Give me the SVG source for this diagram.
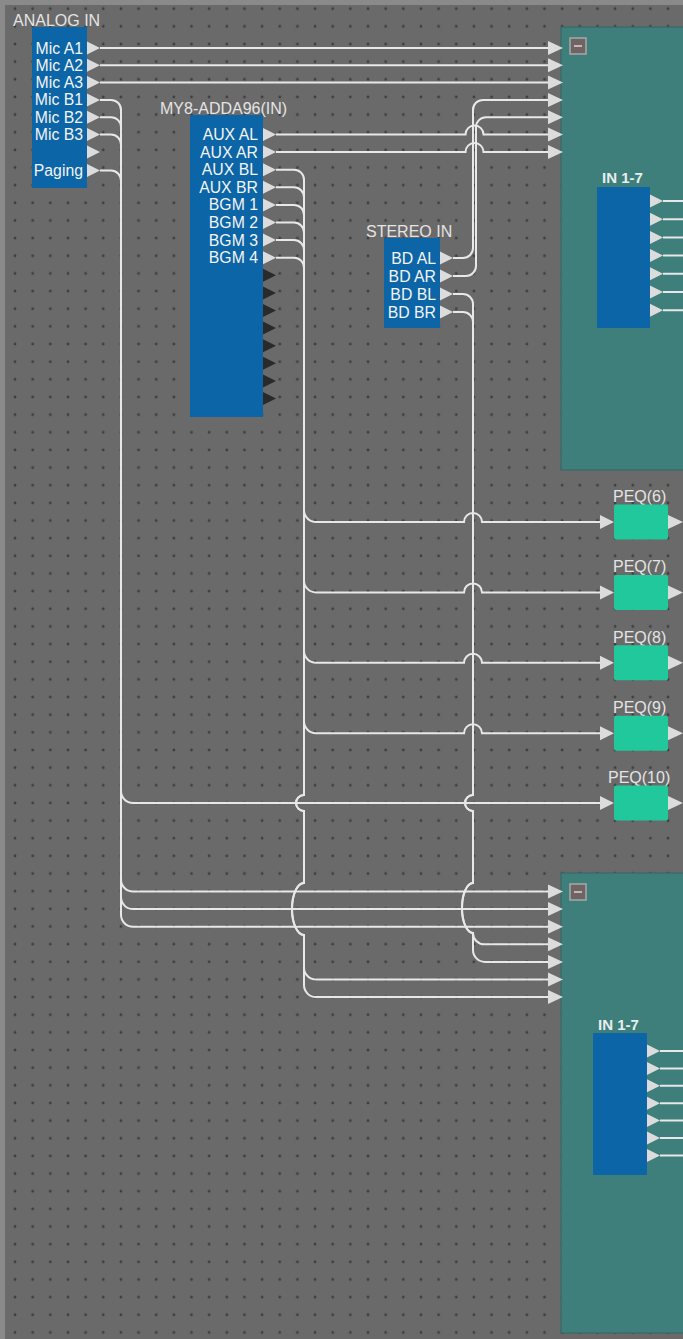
<svg xmlns="http://www.w3.org/2000/svg" width="683" height="1339" viewBox="0 0 683 1339">
<style>
.wire{fill:none;stroke:#e8e8e8;stroke-width:2}
.port{fill:#dcdcdc}
.dport{fill:#2a2a2a}
.blk{fill:#0b65a7}
.lbl{font-family:"Liberation Sans",Arial,sans-serif;font-size:15.8px;fill:#f4f4f4;text-anchor:end}
.ttl{font-family:"Liberation Sans",Arial,sans-serif;font-size:16px;fill:#e4e4e4}
.bold{font-family:"Liberation Sans",Arial,sans-serif;font-size:15px;font-weight:bold;fill:#e8eeee}
.peq{fill:#20c89b}
.teal{fill:#3e7f7b;stroke:#306663;stroke-width:1}
.mini{fill:#6e6464;stroke:#a8a8a8;stroke-width:1.5}
</style>
<defs>
<pattern id="grid" patternUnits="userSpaceOnUse" x="6.175" y="-0.125" width="17.65" height="17.65">
<circle cx="8.825" cy="8.825" r="1.4" fill="#3e3e3e"/>
</pattern>
<path id="tri" d="M0 -6.5L13 0L0 6.5Z"/>
<path id="tin" d="M0 -7L15 0L0 7Z"/>
</defs>
<rect x="0" y="0" width="683" height="1339" fill="#8a8a8a"/>
<rect x="5" y="5" width="678" height="1334" fill="#6a6a6a"/>
<rect x="5" y="5" width="678" height="1334" fill="url(#grid)"/>

<g id="upper-block">
<rect class="teal" x="561" y="27" width="130" height="443"/>
<rect class="mini" x="570" y="38" width="16" height="16"/>
<line x1="574" y1="46" x2="582" y2="46" stroke="#c8b4b4" stroke-width="2"/>
<text class="bold" x="602" y="183">IN 1-7</text>
<rect class="blk" x="597" y="187" width="53" height="141"/>
<g class="port">
<use href="#tri" x="650" y="201"/><use href="#tri" x="650" y="219.2"/><use href="#tri" x="650" y="237.4"/><use href="#tri" x="650" y="255.6"/><use href="#tri" x="650" y="273.8"/><use href="#tri" x="650" y="292"/><use href="#tri" x="650" y="310.2"/>
</g>
<path class="wire" d="M663 201H683M663 219.2H683M663 237.4H683M663 255.6H683M663 273.8H683M663 292H683M663 310.2H683"/>
<g class="port">
<use href="#tin" x="548" y="48"/><use href="#tin" x="548" y="65.3"/><use href="#tin" x="548" y="82.6"/><use href="#tin" x="548" y="99.9"/><use href="#tin" x="548" y="117.2"/><use href="#tin" x="548" y="134.5"/><use href="#tin" x="548" y="152"/>
</g>
</g>

<g id="lower-block">
<rect class="teal" x="561" y="873" width="130" height="460"/>
<rect class="mini" x="570" y="884" width="16" height="16"/>
<line x1="574" y1="892" x2="582" y2="892" stroke="#c8b4b4" stroke-width="2"/>
<text class="bold" x="598" y="1030">IN 1-7</text>
<rect class="blk" x="593" y="1033" width="54" height="142"/>
<g class="port">
<use href="#tri" x="647" y="1051"/><use href="#tri" x="647" y="1068.4"/><use href="#tri" x="647" y="1085.8"/><use href="#tri" x="647" y="1103.2"/><use href="#tri" x="647" y="1120.6"/><use href="#tri" x="647" y="1138"/><use href="#tri" x="647" y="1155.4"/>
</g>
<path class="wire" d="M660 1051H683M660 1068.4H683M660 1085.8H683M660 1103.2H683M660 1120.6H683M660 1138H683M660 1155.4H683"/>
<g class="port">
<use href="#tin" x="548" y="891.5"/><use href="#tin" x="548" y="909.1"/><use href="#tin" x="548" y="926.7"/><use href="#tin" x="548" y="944.3"/><use href="#tin" x="548" y="961.9"/><use href="#tin" x="548" y="979.5"/><use href="#tin" x="548" y="997.1"/>
</g>
</g>

<g id="analog-in">
<text class="ttl" x="13" y="25.5">ANALOG IN</text>
<rect class="blk" x="32" y="27" width="55" height="161"/>
<g class="port">
<use href="#tri" x="87" y="48"/><use href="#tri" x="87" y="65.3"/><use href="#tri" x="87" y="82.6"/><use href="#tri" x="87" y="99.9"/><use href="#tri" x="87" y="117.2"/><use href="#tri" x="87" y="134.5"/><use href="#tri" x="87" y="152"/><use href="#tri" x="87" y="170.5"/>
</g>
<text class="lbl" x="83" y="53.5">Mic A1</text>
<text class="lbl" x="83" y="70.8">Mic A2</text>
<text class="lbl" x="83" y="88.1">Mic A3</text>
<text class="lbl" x="83" y="105.4">Mic B1</text>
<text class="lbl" x="83" y="122.7">Mic B2</text>
<text class="lbl" x="83" y="140">Mic B3</text>
<text class="lbl" x="83" y="176">Paging</text>
</g>

<g id="my8-adda96-in">
<text class="ttl" x="160" y="114">MY8-ADDA96(IN)</text>
<rect class="blk" x="190" y="115" width="73" height="302"/>
<g class="port">
<use href="#tri" x="263" y="134.5"/><use href="#tri" x="263" y="152.1"/><use href="#tri" x="263" y="169.7"/><use href="#tri" x="263" y="187.3"/><use href="#tri" x="263" y="204.9"/><use href="#tri" x="263" y="222.5"/><use href="#tri" x="263" y="240.1"/><use href="#tri" x="263" y="257.7"/>
</g>
<g class="dport">
<use href="#tri" x="263" y="275.3"/><use href="#tri" x="263" y="292.9"/><use href="#tri" x="263" y="310.5"/><use href="#tri" x="263" y="328.1"/><use href="#tri" x="263" y="345.7"/><use href="#tri" x="263" y="363.3"/><use href="#tri" x="263" y="380.9"/><use href="#tri" x="263" y="398.5"/>
</g>
<text class="lbl" x="258" y="140">AUX AL</text>
<text class="lbl" x="258" y="157.6">AUX AR</text>
<text class="lbl" x="258" y="175.2">AUX BL</text>
<text class="lbl" x="258" y="192.8">AUX BR</text>
<text class="lbl" x="258" y="210.4">BGM 1</text>
<text class="lbl" x="258" y="228">BGM 2</text>
<text class="lbl" x="258" y="245.6">BGM 3</text>
<text class="lbl" x="258" y="263.2">BGM 4</text>
</g>

<g id="stereo-in">
<text class="ttl" x="366" y="236.5">STEREO IN</text>
<rect class="blk" x="384" y="238" width="56" height="90"/>
<g class="port">
<use href="#tri" x="440" y="258"/><use href="#tri" x="440" y="276"/><use href="#tri" x="440" y="294"/><use href="#tri" x="440" y="312"/>
</g>
<text class="lbl" x="436" y="263.5">BD AL</text>
<text class="lbl" x="436" y="281.5">BD AR</text>
<text class="lbl" x="436" y="299.5">BD BL</text>
<text class="lbl" x="436" y="317.5">BD BR</text>
</g>

<g id="peq-6">
<text class="ttl" x="613" y="502">PEQ(6)</text>
<rect class="peq" x="614" y="504.5" width="54" height="35" rx="2"/>
<path class="port" d="M600 515L614 522L600 529ZM668 515L683 522L668 529Z"/>
</g>
<g id="peq-7">
<text class="ttl" x="613" y="572.4">PEQ(7)</text>
<rect class="peq" x="614" y="574.9" width="54" height="35" rx="2"/>
<path class="port" d="M600 585.4L614 592.4L600 599.4ZM668 585.4L683 592.4L668 599.4Z"/>
</g>
<g id="peq-8">
<text class="ttl" x="613" y="642.8">PEQ(8)</text>
<rect class="peq" x="614" y="645.3" width="54" height="35" rx="2"/>
<path class="port" d="M600 655.8L614 662.8L600 669.8ZM668 655.8L683 662.8L668 669.8Z"/>
</g>
<g id="peq-9">
<text class="ttl" x="613" y="713.2">PEQ(9)</text>
<rect class="peq" x="614" y="715.7" width="54" height="35" rx="2"/>
<path class="port" d="M600 726.2L614 733.2L600 740.2ZM668 726.2L683 733.2L668 740.2Z"/>
</g>
<g id="peq-10">
<text class="ttl" x="608" y="783">PEQ(10)</text>
<rect class="peq" x="614" y="785.5" width="54" height="35" rx="2"/>
<path class="port" d="M600 796L614 803L600 810ZM668 796L683 803L668 810Z"/>
</g>

<g id="connectors">
<path class="wire" d="M100 48H548"/>
<path class="wire" d="M100 65.3H548"/>
<path class="wire" d="M100 82.6H548"/>
<path class="wire" d="M100 99.9H111A10 10 0 0 1 121 109.9V879.5A12 12 0 0 0 133 891.5H548"/>
<path class="wire" d="M100 117.2H111A10 10 0 0 1 121 127.2V897.1A12 12 0 0 0 133 909.1H548"/>
<path class="wire" d="M100 134.5H111A10 10 0 0 1 121 144.5V914.7A12 12 0 0 0 133 926.7H548"/>
<path class="wire" d="M100 170.5H111A10 10 0 0 1 121 180.5V791A12 12 0 0 0 133 803H600"/>
<path class="wire" d="M276 134.5H465.5A9 9 0 0 1 483.5 134.5H548"/>
<path class="wire" d="M276 152H465.5A9 9 0 0 1 483.5 152H548"/>
<path class="wire" d="M276 169.7H294A10 10 0 0 1 304 179.7V795A8 8 0 0 0 304 811V883A12 26 0 0 0 304 935V967.5A12 12 0 0 0 316 979.5H548"/>
<path class="wire" d="M276 187.3H294A10 10 0 0 1 304 197.3V795A8 8 0 0 0 304 811V883A12 26 0 0 0 304 935V985.1A12 12 0 0 0 316 997.1H548"/>
<path class="wire" d="M276 204.9H294A10 10 0 0 1 304 214.9V510A12 12 0 0 0 316 522H464A9 9 0 0 1 482 522H600"/>
<path class="wire" d="M276 222.5H294A10 10 0 0 1 304 232.5V580.4A12 12 0 0 0 316 592.4H464A9 9 0 0 1 482 592.4H600"/>
<path class="wire" d="M276 240.1H294A10 10 0 0 1 304 250.1V650.8A12 12 0 0 0 316 662.8H464A9 9 0 0 1 482 662.8H600"/>
<path class="wire" d="M276 257.7H294A10 10 0 0 1 304 267.7V721.2A12 12 0 0 0 316 733.2H464A9 9 0 0 1 482 733.2H600"/>
<path class="wire" d="M453 258H463A10 10 0 0 0 473 248V109.9A10 10 0 0 1 483 99.9H548"/>
<path class="wire" d="M453 276H466A10 10 0 0 0 476 266V127.2A10 10 0 0 1 486 117.2H548"/>
<path class="wire" d="M453 294H463A10 10 0 0 1 473 304V795A8 8 0 0 0 473 811V883A11 25 0 0 0 473 933A11.3 11.3 0 0 0 484.3 944.3H548"/>
<path class="wire" d="M453 312H463A10 10 0 0 1 473 322V795A8 8 0 0 0 473 811V883A11 25 0 0 0 473 933V949.9A12 12 0 0 0 485 961.9H548"/>
</g>
</svg>
